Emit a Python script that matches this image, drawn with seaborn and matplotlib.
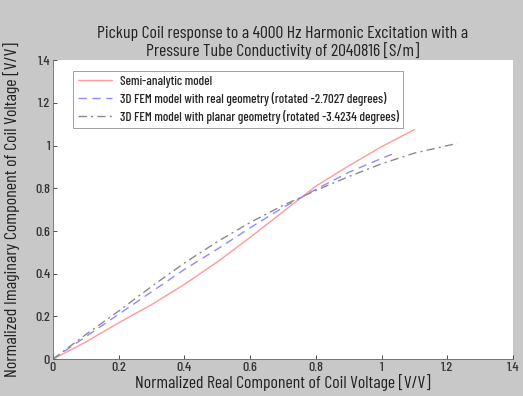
import numpy as np
import pandas as pd
import matplotlib
matplotlib.use('Agg')
import matplotlib.pyplot as plt
import seaborn as sns

# curves
x_semi = [0, 0.1, 0.2, 0.3, 0.4, 0.5, 0.6, 0.7, 0.8, 0.9, 1.0, 1.1]
y_semi = [0, 0.08, 0.17, 0.255, 0.35, 0.455, 0.57, 0.69, 0.81, 0.905, 0.995, 1.075]

x_real = [0, 0.1, 0.2, 0.3, 0.4, 0.5, 0.6, 0.7, 0.8, 0.9, 1.0, 1.04]
y_real = [0, 0.105, 0.21, 0.315, 0.42, 0.515, 0.615, 0.71, 0.795, 0.875, 0.94, 0.965]

x_planar = [0, 0.1, 0.2, 0.3, 0.4, 0.5, 0.6, 0.7, 0.8, 0.9, 1.0, 1.1, 1.2, 1.23]
y_planar = [0, 0.115, 0.225, 0.34, 0.45, 0.55, 0.64, 0.72, 0.79, 0.855, 0.915, 0.965, 1.0, 1.01]

labels = ['Semi-analytic model',
          '3D FEM model with real geometry (rotated -2.7027 degrees)',
          '3D FEM model with planar geometry (rotated -3.4234 degrees)']

sns.set_style('ticks')
plt.rcParams['font.family'] = ['Barlow Condensed', 'DejaVu Sans']
plt.rcParams['font.weight'] = 'medium'

fig = plt.figure(figsize=(5.23, 3.96), dpi=100, facecolor='#c8c8c8')
ax = fig.add_axes([0.101, 0.093, 0.880, 0.755])
ax.set_facecolor('white')

sns.lineplot(x=x_semi, y=y_semi, ax=ax, sort=False, color='#ff9a9a', lw=1.0, label=labels[0])
sns.lineplot(x=x_real, y=y_real, ax=ax, sort=False, color='#8c8cff', lw=1.0, label=labels[1])
sns.lineplot(x=x_planar, y=y_planar, ax=ax, sort=False, color='#8a8a8a', lw=1.0, label=labels[2])
ax.lines[1].set_linestyle((0, (6, 4)))
ax.lines[2].set_linestyle((0, (6, 3, 1.5, 3)))

ax.set_xlim(0, 1.4)
ax.set_ylim(0, 1.4)
ticks = np.arange(0, 1.41, 0.2)
tick_labels = ['0', '0.2', '0.4', '0.6', '0.8', '1', '1.2', '1.4']
ax.set_xticks(ticks)
ax.set_yticks(ticks)
ax.set_xticklabels(tick_labels)
ax.set_yticklabels(tick_labels)
ax.tick_params(direction='in', length=3, labelsize=10, colors='#333333', width=0.6, pad=2)
sns.despine(ax=ax)
for s in ['left', 'bottom']:
    ax.spines[s].set_color('#666666')
    ax.spines[s].set_linewidth(0.6)

ax.set_xlabel('Normalized Real Component of Coil Voltage [V/V]', fontsize=12.8, color='#222222', labelpad=0)
ax.set_ylabel('Normalized Imaginary Component of Coil Voltage [V/V]', fontsize=13, color='#222222', labelpad=11)
ax.set_title('Pickup Coil response to a 4000 Hz Harmonic Excitation with a\nPressure Tube Conductivity of 2040816 [S/m]',
             fontsize=12.8, color='#222222', pad=3, linespacing=1.05)

leg = ax.legend(loc='upper left', bbox_to_anchor=(0.03, 0.985), fontsize=9.4, frameon=True,
                fancybox=False, edgecolor='#888888', handlelength=2.6, borderpad=0.35,
                labelspacing=0.3, handletextpad=0.6)
leg.get_frame().set_linewidth(0.7)

fig.savefig('out.png', dpi=100, facecolor=fig.get_facecolor())
